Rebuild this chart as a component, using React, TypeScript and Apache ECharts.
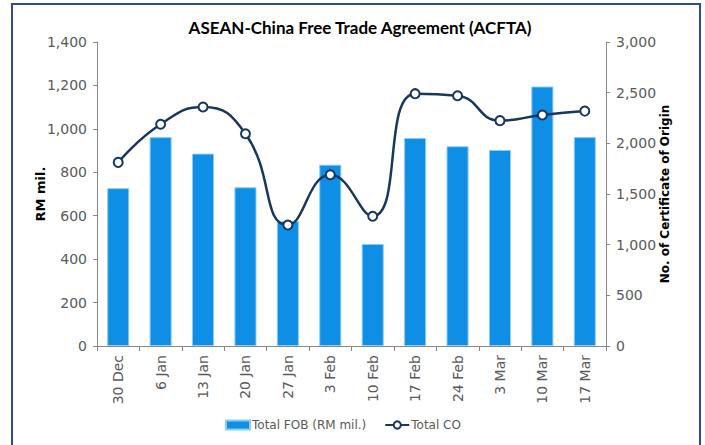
import React, { useEffect, useRef } from "react";
import * as echarts from "echarts";

const categories = ["30 Dec", "6 Jan", "13 Jan", "20 Jan", "27 Jan", "3 Feb", "10 Feb", "17 Feb", "24 Feb", "3 Mar", "10 Mar", "17 Mar"];
const totalFOB = [727, 962, 886, 731, 575, 835, 470, 958, 920, 903, 1195, 962];
const totalCO = [1812, 2188, 2358, 2095, 1194, 1690, 1280, 2490, 2470, 2224, 2280, 2318];
const leftTicks = { min: 0, max: 1400, interval: 200 };
const rightTicks = { min: 0, max: 3000, interval: 500 };

const FONT = "DejaVu Sans";
const AXIS_COLOR = "#888888";
const LABEL_COLOR = "#595959";

export default function App() {
  const ref = useRef<HTMLDivElement>(null);
  useEffect(() => {
    if (!ref.current) return;
    const chart = echarts.init(ref.current, null, { renderer: "svg" });
    chart.setOption({
      animation: false,
      backgroundColor: "#ffffff",
      title: {
        text: "ASEAN-China Free Trade Agreement (ACFTA)",
        left: 355,
        textAlign: "center",
        top: 14,
        textStyle: { fontFamily: "Lato", fontWeight: "bold", fontSize: 17, color: "#000000" },
      },
      graphic: [
        {
          type: "rect",
          shape: { x: 12, y: 4, width: 688, height: 470 },
          style: { fill: "none", stroke: "#2E4A9A", lineWidth: 2 },
          silent: true,
        },
      ],
      legend: {
        left: 220,
        top: 414,
        itemGap: 18,
        itemWidth: 24,
        itemHeight: 9,
        textStyle: { fontFamily: FONT, fontSize: 12, color: LABEL_COLOR, padding: [0, 0, 0, -3] },
        data: [
          { name: "Total FOB (RM mil.)", icon: "rect" },
          { name: "Total CO" },
        ],
      },
      grid: { left: 97, right: 99, top: 42, bottom: 99 },
      xAxis: {
        type: "category",
        data: categories,
        axisLine: { lineStyle: { color: AXIS_COLOR } },
        axisTick: { show: true, length: 5, lineStyle: { color: AXIS_COLOR } },
        axisLabel: { rotate: 90, interval: 0, margin: 9, fontFamily: FONT, fontSize: 14, color: LABEL_COLOR },
      },
      yAxis: [
        {
          type: "value",
          min: leftTicks.min,
          max: leftTicks.max,
          interval: leftTicks.interval,
          name: "RM mil.",
          nameLocation: "middle",
          nameGap: 50,
          nameMoveOverlap: false,
          nameTextStyle: { fontFamily: FONT, fontWeight: "bold", fontSize: 13, color: "#000000" },
          axisLine: { show: true, lineStyle: { color: AXIS_COLOR } },
          axisTick: { show: true, length: 4, lineStyle: { color: AXIS_COLOR } },
          splitLine: { show: false },
          axisLabel: {
            fontFamily: FONT,
            fontSize: 14,
            color: LABEL_COLOR,
            margin: 10,
            formatter: (v: number) => v.toLocaleString("en-US"),
          },
        },
        {
          type: "value",
          min: rightTicks.min,
          max: rightTicks.max,
          interval: rightTicks.interval,
          name: "No. of Certificate of Origin",
          nameLocation: "middle",
          nameGap: 53,
          nameRotate: 90,
          nameMoveOverlap: false,
          nameTextStyle: { fontFamily: FONT, fontWeight: "bold", fontSize: 12, color: "#000000" },
          axisLine: { show: true, lineStyle: { color: AXIS_COLOR } },
          axisTick: { show: true, length: 4, lineStyle: { color: AXIS_COLOR } },
          splitLine: { show: false },
          axisLabel: {
            fontFamily: FONT,
            fontSize: 14,
            color: LABEL_COLOR,
            margin: 10,
            formatter: (v: number) => v.toLocaleString("en-US"),
          },
        },
      ],
      series: [
        {
          name: "Total FOB (RM mil.)",
          type: "bar",
          yAxisIndex: 0,
          data: totalFOB,
          barWidth: "52%",
          itemStyle: { color: "#0E8FE5", borderColor: "#8CCBF3", borderWidth: 1 },
        },
        {
          name: "Total CO",
          type: "line",
          yAxisIndex: 1,
          data: totalCO,
          smooth: 0.5,
          symbol: "circle",
          symbolSize: 9,
          lineStyle: { color: "#17375E", width: 2.5 },
          itemStyle: { color: "#ffffff", borderColor: "#17375E", borderWidth: 2 },
        },
      ],
    });
    return () => chart.dispose();
  }, []);
  return (
    <div
      ref={ref}
      style={{ position: "absolute", left: 0, top: 0, width: 705, height: 445 }}
    />
  );
}
